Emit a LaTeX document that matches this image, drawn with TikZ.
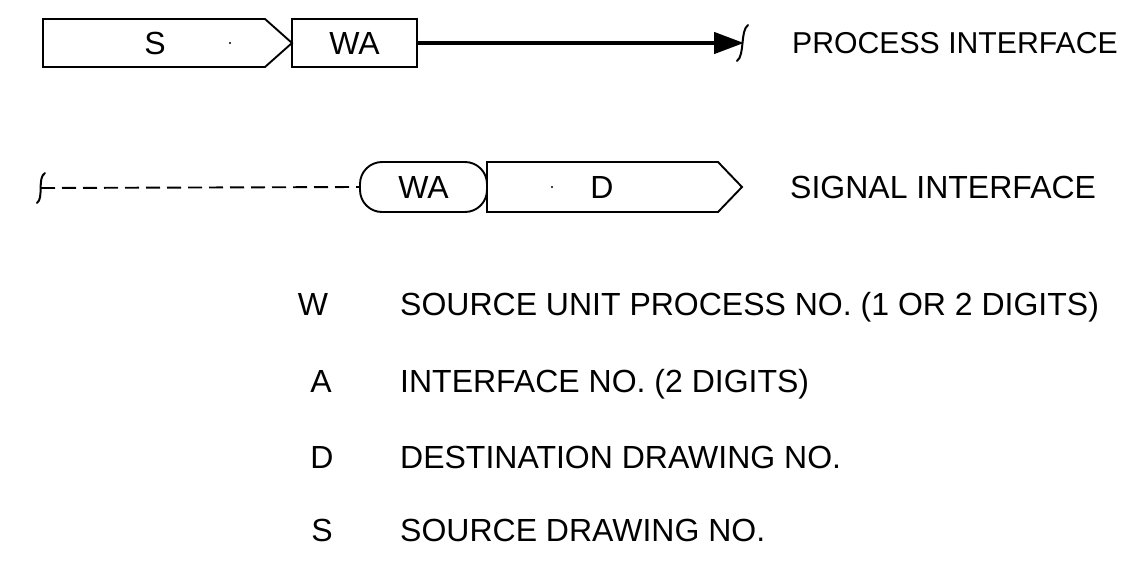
\documentclass[tikz,border=0pt]{standalone}
\usepackage{fontspec}
\setmainfont{Liberation Sans}
\usetikzlibrary{arrows.meta}
\begin{document}
\begin{tikzpicture}[x=1pt,y=-1pt,
  box/.style={draw=black,line width=1.9pt},
  lbl/.style={inner sep=0pt,text height=23pt,text depth=0pt,font=\fontsize{32}{38}\selectfont},
  wire/.style={line width=2pt,line cap=round},
  fatline/.style={line width=4.5pt,-{Triangle[length=30pt,width=21pt]}},
  dashline/.style={line width=1.9pt,dash pattern=on 14pt off 7pt}]
\useasboundingbox (0,0) rectangle (1136,562);
% top row
\draw[box] (43,19) -- (265,19) -- (292,43) -- (265,67) -- (43,67) -- cycle;
\node[lbl] (s1) at (155,43) {S};
\fill (230,43) circle (1.1pt);
\node[box,lbl,minimum width=125pt,minimum height=48pt] (wa1) at (354.5,43) {WA};
\coordinate (tip1) at (744,43);
\draw[fatline] (wa1.east) -- (tip1);
\draw[wire] (748,25) .. controls (740,31) and (745,55) .. (737,61);
\node[lbl,anchor=west,text height=21.5pt,font=\fontsize{30.2}{36}\selectfont] (pi) at (792,43) {PROCESS INTERFACE};
% second row
\coordinate (start2) at (41,188);
\draw[wire] (45,173) .. controls (37,178) and (44,198) .. (37,203);
\node[box,lbl,rounded corners=22pt,minimum width=127pt,minimum height=50pt] (wa2) at (423.5,187) {WA};
\draw[dashline] (start2) -- (wa2.west);
\draw[box] (487,162) -- (718,162) -- (742,187) -- (718,212) -- (487,212) -- cycle;
\fill (552,187) circle (1.1pt);
\node[lbl] (d2) at (602,187) {D};
\node[lbl,anchor=west] (si) at (790,187) {SIGNAL INTERFACE};
% legend
\node[lbl] (kw) at (313,304) {W};
\node[lbl,anchor=west] (tw) at (400,304) {SOURCE UNIT PROCESS NO. (1 OR 2 DIGITS)};
\node[lbl] (ka) at (321,381) {A};
\node[lbl,anchor=west] (ta) at (400,381) {INTERFACE NO. (2 DIGITS)};
\node[lbl] (kd) at (322,457) {D};
\node[lbl,anchor=west] (td) at (400,457) {DESTINATION DRAWING NO.};
\node[lbl] (ks) at (322,530) {S};
\node[lbl,anchor=west] (ts) at (400,530) {SOURCE DRAWING NO.};
\end{tikzpicture}
\end{document}
